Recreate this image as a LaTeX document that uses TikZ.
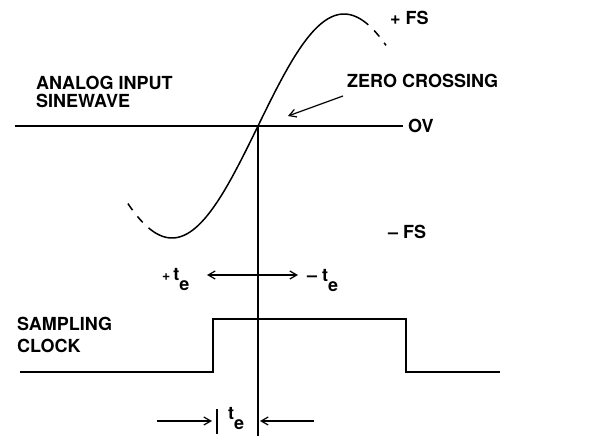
\documentclass[tikz,border=0pt]{standalone}
\usepackage{fontspec}
\setmainfont{TeX Gyre Heros}
\usetikzlibrary{arrows.meta}
\tikzset{
  lbl/.style={inner sep=0pt, anchor=base west, font=\bfseries\fontsize{18}{18}\selectfont},
  wire/.style={line width=1.5pt},
  arr/.style={line width=1.2pt, -{Straight Barb[length=7pt,width=8pt,line width=1.2pt]}},
  darr/.style={line width=1.2pt, {Straight Barb[length=7pt,width=8pt,line width=1.2pt]}-{Straight Barb[length=7pt,width=8pt,line width=1.2pt]}},
}
\newcommand{\te}{t\raisebox{-10pt}{e}}
\begin{document}
\begin{tikzpicture}[x=1pt,y=-1pt]
\useasboundingbox (0,0) rectangle (606,436);
% zero line
\coordinate (zl) at (15,126);
\coordinate (zr) at (403,126);
\coordinate (zc) at (258,126);
\draw[wire] (zl) -- (zr);
% sine
\draw[wire] plot[domain=155:362, samples=90] (\x, {126-112*sin((\x-258)*90/86)});
\draw[wire, dash pattern=on 8pt off 8pt] plot[domain=362:386, samples=20] (\x, {126-112*sin((\x-258)*90/86)});
\draw[wire, dash pattern=on 8pt off 8pt] plot[domain=155:124, samples=20] (\x, {126-112*sin((\x-258)*90/86)});
% vertical line
\coordinate (vb) at (258,436);
\draw[wire] (zc) -- (vb);
% labels
\node[lbl] (ana1) at (36,90) {ANALOG INPUT};
\node[lbl] (ana2) at (36,107) {SINEWAVE};
\node[lbl] (zero) at (347,88) {ZERO CROSSING};
\node[lbl] (ov) at (408,132) {OV};
\node[lbl] (pfs) at (390,25) {+ FS};
\node[lbl] (mfs) at (388,238) {\textendash\ FS};
\node[lbl] (samp) at (17,330) {SAMPLING};
\node[lbl] (clk) at (17,352) {CLOCK};
% zero crossing arrow
\coordinate (za0) at (343,96);
\coordinate (za1) at (288,116);
\draw[arr] (za0) -- (za1);
% +te / -te
\node[lbl] (pte) at (162,280) {{\fontsize{14}{14}\selectfont+}\,\te};
\node[lbl] (mte) at (307,281) {\textendash\ \te};
\coordinate (da0) at (207,275);
\coordinate (da1) at (298,275);
\draw[darr] (da0) -- (da1);
% clock
\coordinate (c0) at (20,372);
\coordinate (c1) at (213,372);
\coordinate (c2) at (213,319);
\coordinate (c3) at (406,319);
\coordinate (c4) at (406,372);
\coordinate (c5) at (500,372);
\draw[wire] (c0) -- (c1) -- (c2) -- (c3) -- (c4) -- (c5);
% bottom te
\coordinate (b0) at (157,421);
\coordinate (b1) at (212,421);
\coordinate (bt) at (217,409);
\coordinate (bb) at (217,434);
\coordinate (b2) at (314,421);
\coordinate (b3) at (260,421);
\draw[arr] (b0) -- (b1);
\draw[wire] (bt) -- (bb);
\draw[arr] (b2) -- (b3);
\node[lbl] (bte) at (228,419) {\te};
\end{tikzpicture}
\end{document}
